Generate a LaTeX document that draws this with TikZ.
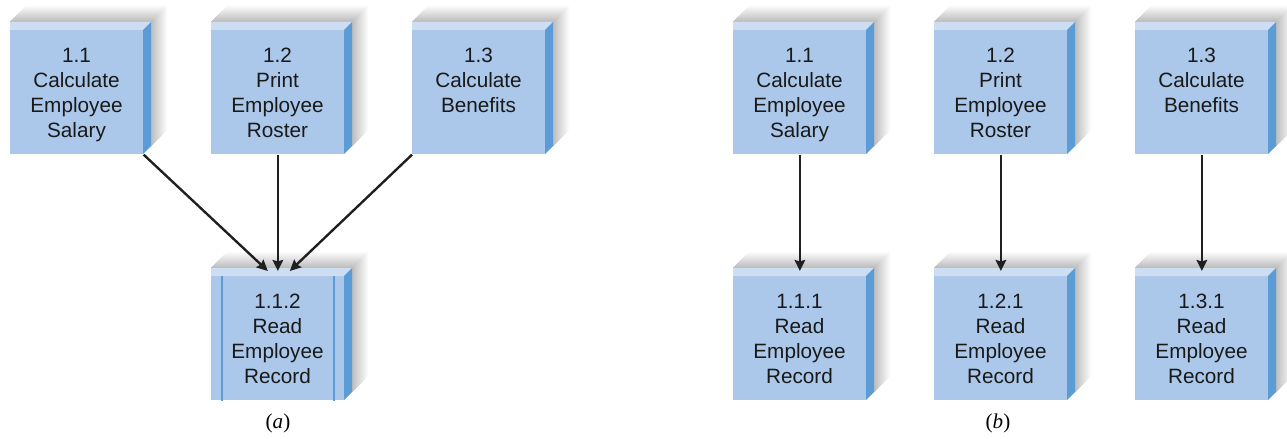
\documentclass[tikz,border=0pt]{standalone}
\usepackage{fontspec}
\setmainfont{Liberation Sans}
\newfontfamily\capfont{Liberation Serif}
\usetikzlibrary{arrows.meta}

\begin{document}
\begin{tikzpicture}[x=0.02cm, y=-0.02cm,
  every node/.style={font=\fontsize{11.8}{14.2}\selectfont},
  boxface/.style={rectangle, fill=boxfront, minimum width=2.66cm, minimum height=2.48cm, inner sep=0pt, anchor=north west},
  boxtext/.style={align=center, inner sep=0pt, anchor=north, text=black!90},
  flow/.style={-{Stealth[length=0.22cm, width=0.21cm, inset=0.03cm]}, line width=1.35pt, black!88}]
\definecolor{boxfront}{RGB}{171,200,234}
\definecolor{boxtop}{RGB}{206,222,242}
\definecolor{boxside}{RGB}{92,156,214}
\useasboundingbox (0,0) rectangle (1287,439);
% Data: {name, left, top, text}
\foreach \nm/\x/\y/\txt in {
  a11/10/30/{1.1\\Calculate\\Employee\\Salary},
  a12/211/30/{1.2\\Print\\Employee\\Roster},
  a13/412/30/{1.3\\Calculate\\Benefits},
  a112/211/276/{1.1.2\\Read\\Employee\\Record},
  b11/733/30/{1.1\\Calculate\\Employee\\Salary},
  b12/934/30/{1.2\\Print\\Employee\\Roster},
  b13/1135/30/{1.3\\Calculate\\Benefits},
  b111/733/276/{1.1.1\\Read\\Employee\\Record},
  b121/934/276/{1.2.1\\Read\\Employee\\Record},
  b131/1135/276/{1.3.1\\Read\\Employee\\Record}%
} {
  % Shadow behind the box (fading steps)
  \foreach \s in {16,...,1} {
    \pgfmathsetmacro{\g}{27 - 1.6*\s}
    \fill[black!\g] (\x,\y-8) -- (\x+\s,\y-8-\s) -- (\x+141+\s,\y-8-\s)
      -- (\x+141+\s,\y+116-\s) -- (\x+141,\y+116) -- cycle;
  }
  % Front face
  \node[boxface] (\nm) at (\x,\y) {};
  % Top strip
  \fill[boxtop] (\x,\y) -- (\x,\y-8) -- (\x+141,\y-8) -- (\x+133,\y) -- cycle;
  % Side
  \fill[boxside] (\x+133,\y) -- (\x+141,\y-8) -- (\x+141,\y+116) -- (\x+133,\y+124) -- cycle;
  % Label
  \node[boxtext] (t\nm) at (\x+66.5,\y+18) {\txt};
}
% Inner lines of the shared module
\draw[boxside, line width=1pt] ([xshift=0.22cm]a112.north west) -- ([xshift=0.22cm]a112.south west);
\draw[boxside, line width=1pt] ([xshift=-0.22cm]a112.north east) -- ([xshift=-0.22cm]a112.south east);
% Connectors (a)
\draw[flow] (a11.south east) -- ([xshift=-0.2cm,yshift=0.1cm]a112.north);
\draw[flow] (a12.south) -- ([yshift=0.1cm]a112.north);
\draw[flow] (a13.south west) -- ([xshift=0.24cm,yshift=0.1cm]a112.north);
% Connectors (b)
\draw[flow] (b11.south) -- ([yshift=0.1cm]b111.north);
\draw[flow] (b12.south) -- ([yshift=0.1cm]b121.north);
\draw[flow] (b13.south) -- ([yshift=0.1cm]b131.north);
% Captions
\node (capa) at (278,423) {\capfont\fontsize{12}{14}\selectfont(\textit{a})};
\node (capb) at (998,423) {\capfont\fontsize{12}{14}\selectfont(\textit{b})};
\end{tikzpicture}
\end{document}
